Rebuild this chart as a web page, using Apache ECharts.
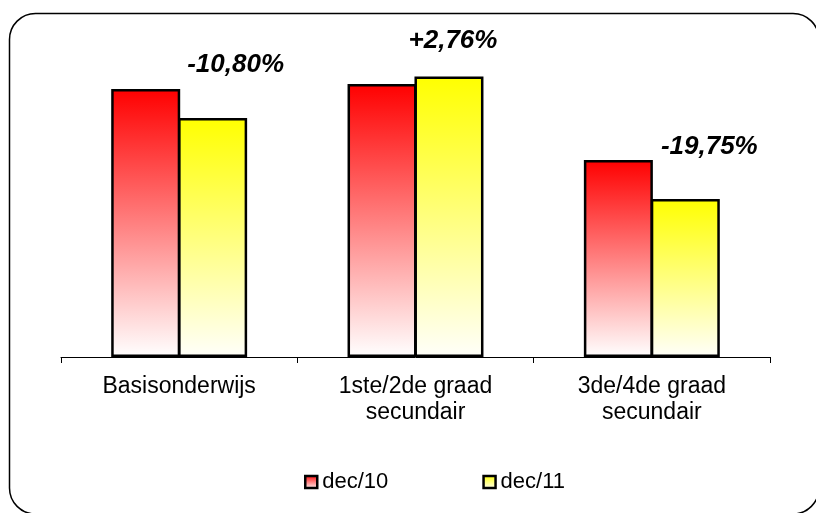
<!DOCTYPE html>
<html>
<head>
<meta charset="utf-8">
<script src="https://cdn.jsdelivr.net/npm/echarts@6/dist/echarts.min.js"></script>
<style>
html,body{margin:0;padding:0;background:#fff;}
#chart{width:816px;height:513px;}
</style>
</head>
<body>
<div id="chart"></div>
<script>
var categories = ['Basisonderwijs', '1ste/2de graad\nsecundair', '3de/4de graad\nsecundair'];
var seriesNames = ['dec/10', 'dec/11'];
var dec10 = [268, 273, 197];
var dec11 = [239, 280.5, 158];
var changeLabels = ['-10,80%', '+2,76%', '-19,75%'];

var labelOffsets = [[23, -40], [4, -23], [24, -39]];

var FONT = '"Liberation Sans", Arial, sans-serif';

function grad(top, bottom) {
  return new echarts.graphic.LinearGradient(0, 0, 0, 1, [
    {offset: 0, color: top},
    {offset: 1, color: bottom}
  ]);
}

var chart = echarts.init(document.getElementById('chart'), null, {renderer: 'canvas'});

var yellowData = dec11.map(function (v, i) {
  return {
    value: v,
    label: {
      show: true,
      position: 'top',
      distance: 0,
      offset: labelOffsets[i],
      formatter: changeLabels[i],
      fontFamily: FONT,
      fontSize: 26,
      fontWeight: 'bold',
      fontStyle: 'italic',
      color: '#000'
    }
  };
});

chart.setOption({
  animation: false,
  backgroundColor: '#fff',
  graphic: [{
    type: 'rect',
    silent: true,
    z: -10,
    shape: {x: 9.5, y: 13.5, width: 809.5, height: 500.5, r: 26},
    style: {fill: '#fff', stroke: '#000', lineWidth: 1.5}
  }],
  grid: {left: 61, right: 46, top: 57, bottom: 156, containLabel: false},
  legend: {
    data: seriesNames,
    left: 299,
    top: 466,
    itemWidth: 12,
    itemHeight: 12,
    itemGap: 94,
    icon: 'rect',
    textStyle: {fontFamily: FONT, fontSize: 22, color: '#000'},
    itemStyle: {borderColor: '#000', borderWidth: 2.5}
  },
  xAxis: {
    type: 'category',
    data: categories,
    axisLine: {show: true, lineStyle: {color: '#000', width: 1}},
    axisTick: {show: true, length: 6, lineStyle: {color: '#000', width: 1}},
    axisLabel: {
      margin: 17,
      fontFamily: FONT,
      fontSize: 23,
      lineHeight: 26,
      color: '#000',
      interval: 0
    },
    splitLine: {show: false}
  },
  yAxis: {
    type: 'value',
    min: 0,
    max: 300,
    show: false
  },
  series: [
    {
      name: seriesNames[0],
      type: 'bar',
      data: dec10,
      barWidth: 69,
      barGap: '-3%',
      itemStyle: {color: grad('#FF0000', '#FFFFFF'), borderColor: '#000', borderWidth: 2.5}
    },
    {
      name: seriesNames[1],
      type: 'bar',
      data: yellowData,
      barWidth: 69,
      barGap: '-3%',
      itemStyle: {color: grad('#FFFF00', '#FFFFFA'), borderColor: '#000', borderWidth: 2.5}
    }
  ]
});
</script>
</body>
</html>
